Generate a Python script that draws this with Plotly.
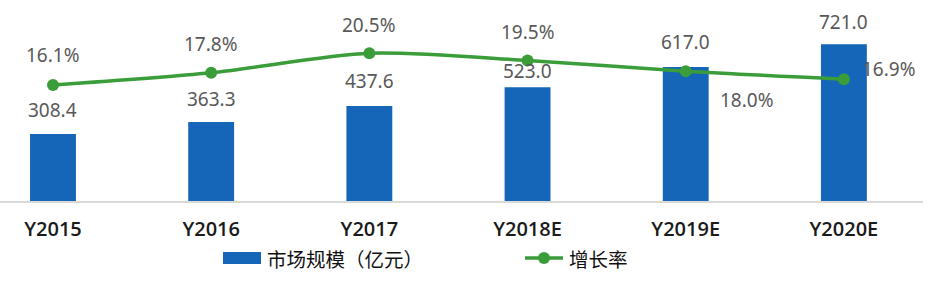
import plotly.graph_objects as go

categories = ["Y2015", "Y2016", "Y2017", "Y2018E", "Y2019E", "Y2020E"]
market_size = [308.4, 363.3, 437.6, 523.0, 617.0, 721.0]
growth_rate = [16.1, 17.8, 20.5, 19.5, 18.0, 16.9]
size_labels = ["308.4", "363.3", "437.6", "523.0", "617.0", "721.0"]
rate_labels = ["16.1%", "17.8%", "20.5%", "19.5%", "18.0%", "16.9%"]

# label offsets in pixels (layout only)
bar_label_dy = [23.5, 23, 24.7, 16.3, 25, 22.6]
rate_label_dx = [0, 0, 0, 0, 61, 45]
rate_label_dy = [30, 28.7, 28, 28, -29, 10]

BLUE = "#1565b8"
GREEN = "#3a9d3a"
LABEL_FONT = dict(family="Noto Sans", size=19, color="#595959")

fig = go.Figure()
fig.add_trace(go.Bar(
    x=categories, y=market_size, marker=dict(color=BLUE, line=dict(width=0)),
    name="市场规模（亿元）", yaxis="y", showlegend=False, hoverinfo="skip",
))
fig.add_trace(go.Scatter(
    x=categories, y=growth_rate, mode="lines+markers", yaxis="y2",
    line=dict(color=GREEN, width=3.5, shape="spline", smoothing=0.8),
    marker=dict(color=GREEN, size=12),
    name="增长率", showlegend=False, hoverinfo="skip",
))

annotations = []
for c, v, t, dy in zip(categories, market_size, size_labels, bar_label_dy):
    annotations.append(dict(x=c, y=v, xref="x", yref="y", text=t, showarrow=False,
                            yshift=dy, xanchor="center", yanchor="middle", font=LABEL_FONT))
for c, v, t, dx, dy in zip(categories, growth_rate, rate_labels, rate_label_dx, rate_label_dy):
    annotations.append(dict(x=c, y=v, xref="x", yref="y2", text=t, showarrow=False,
                            xshift=dx, yshift=dy, xanchor="center", yanchor="middle", font=LABEL_FONT))

# custom legend
PW = 923.0
PH = 191.0
def px_x(p):
    return p / PW
def px_y(p):
    return (201 - p) / PH

LEG_FONT = dict(family="Noto Sans CJK SC", size=19.5, color="#111111")
shapes = [
    dict(type="rect", xref="paper", yref="paper", x0=px_x(223), x1=px_x(261),
         y0=px_y(264), y1=px_y(252), fillcolor=BLUE, line=dict(width=0)),
    dict(type="line", xref="paper", yref="paper", x0=px_x(525), x1=px_x(563),
         y0=px_y(258), y1=px_y(258), line=dict(color=GREEN, width=3.5)),
    dict(type="circle", xref="paper", yref="paper", x0=px_x(538), x1=px_x(550),
         y0=px_y(264), y1=px_y(252), fillcolor=GREEN, line=dict(width=0)),
]
annotations.append(dict(x=px_x(265), y=px_y(258), xref="paper", yref="paper",
                        text="市场规模（亿元）", showarrow=False, xanchor="left",
                        yanchor="middle", font=LEG_FONT))
annotations.append(dict(x=px_x(567), y=px_y(258), xref="paper", yref="paper",
                        text="增长率", showarrow=False, xanchor="left",
                        yanchor="middle", font=LEG_FONT))

fig.update_layout(
    width=928, height=288,
    margin=dict(l=0, r=5, t=10, b=87),
    paper_bgcolor="white", plot_bgcolor="white",
    bargap=0.71,
    showlegend=False,
    xaxis=dict(type="category", range=[-0.335, 5.5], showgrid=False, zeroline=False,
               showline=True, linecolor="#d9d9d9", linewidth=1.5, ticks="",
               ticklabelstandoff=9,
               tickfont=dict(family="Open Sans", size=20, color="#1a1a1a", weight=600)),
    yaxis=dict(range=[0, 879], visible=False, showgrid=False, zeroline=False),
    yaxis2=dict(range=[0, 26.5], overlaying="y", side="right", visible=False,
                showgrid=False, zeroline=False),
    annotations=annotations,
    shapes=shapes,
)

fig.write_html("out.html")
